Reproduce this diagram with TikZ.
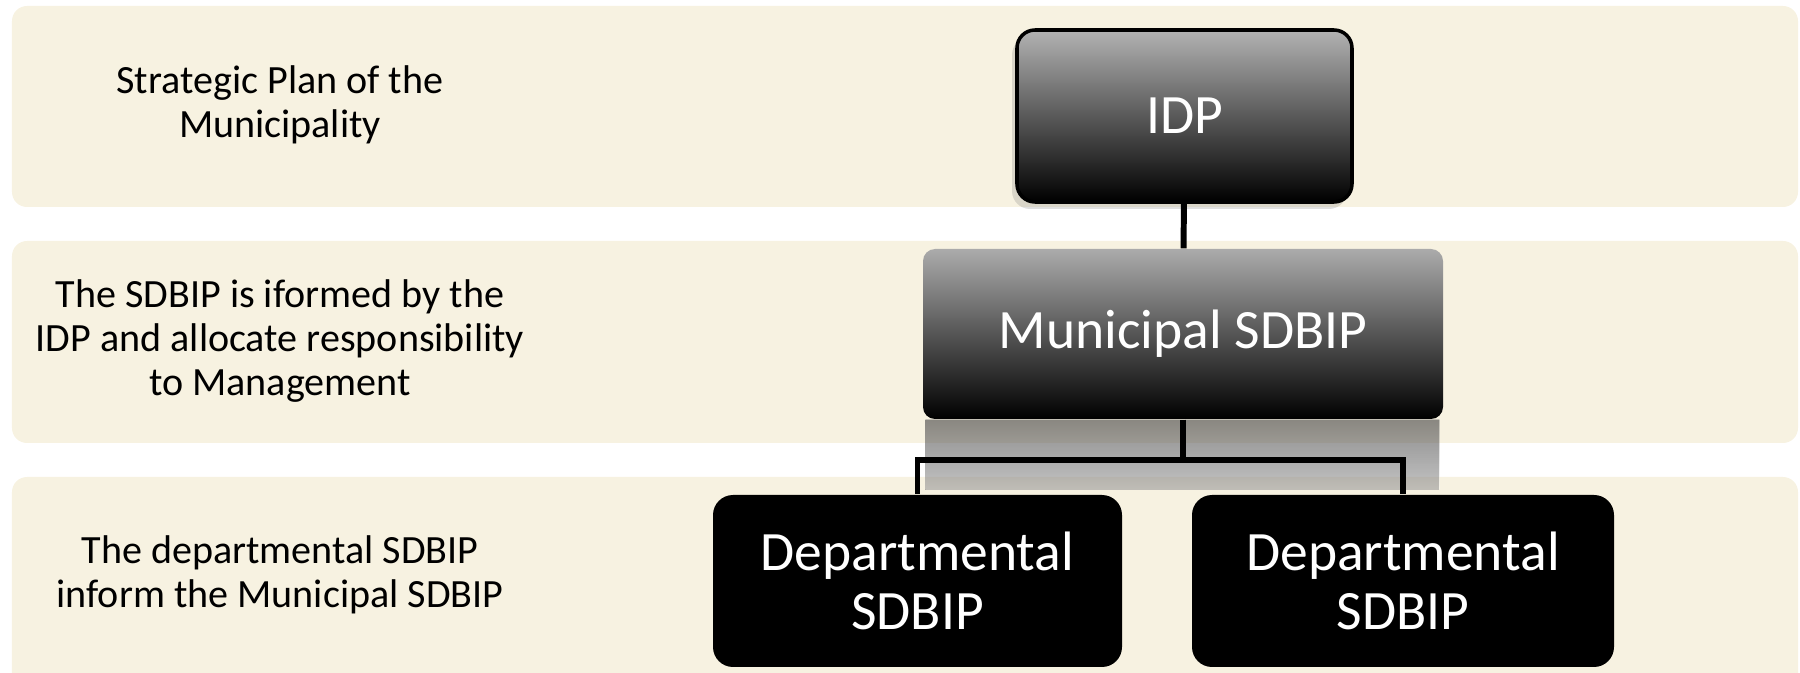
\documentclass[tikz,border=0pt]{standalone}
\usepackage{fontspec}
\setmainfont{Carlito}
\usetikzlibrary{shadows}
\definecolor{bandcream}{HTML}{F7F2E1}
\tikzset{
    band/.style={fill=bandcream, rounded corners=.15cm},
    note/.style={align=center, font=\fontsize{11.4}{12.6}\selectfont},
    boxtext/.style={text=white, align=center, inner sep=0pt,
        font=\fontsize{15.8}{16.8}\selectfont},
    idpbox/.style={boxtext, draw=black, line width=1pt, rounded corners=.18cm,
        top color=black!30, bottom color=black,
        minimum width=3.35cm, minimum height=1.72cm,
        drop shadow={shadow xshift=-.05cm, shadow yshift=-.07cm, opacity=.25}},
    munbox/.style={boxtext, rounded corners=.12cm,
        top color=black!33, bottom color=black,
        minimum width=5.2cm, minimum height=1.7cm},
    depbox/.style={boxtext, fill=black, rounded corners=.2cm,
        minimum height=1.72cm},
    link/.style={line width=1.7pt, black}
}
\begin{document}
\begin{tikzpicture}
    \useasboundingbox (0,0) rectangle (18,-6.73);
    % Bänder
    \fill[band] (.12,-.06) rectangle (17.98,-2.07);
    \fill[band] (.12,-2.41) rectangle (17.98,-4.43);
    \fill[band] (.12,-4.77) rectangle (17.98,-6.95);
    % Beschriftungen links
    \node[note] (n1) at (2.8,-1.05) {Strategic Plan of the\\Municipality};
    \node[note] (n2) at (2.8,-3.41) {The SDBIP is iformed by the\\IDP and allocate responsibility\\to Management};
    \node[note] (n3) at (2.8,-5.75) {The departmental SDBIP\\inform the Municipal SDBIP};
    % Kästen
    \node[idpbox] (IDP) at (11.845,-1.16) {IDP};
    \node[munbox] (MUN) at (11.83,-3.34) {Municipal SDBIP};
    % Schatten unter Municipal SDBIP
    \fill[top color=black!55, bottom color=white, opacity=.38]
        (MUN.south west) ++(.03,0) rectangle ++(5.14,-.7);
    \node[depbox, minimum width=4.09cm] (DL) at (9.175,-5.81) {Departmental\\SDBIP};
    \node[depbox, minimum width=4.22cm] (DR) at (14.03,-5.81) {Departmental\\SDBIP};
    % Verbindungen
    \coordinate (bar) at (MUN.south |- 0,-4.6);
    \draw[link] (IDP) -- (MUN);
    \draw[link] (MUN) -- (bar);
    \draw[link] (bar) -| (DL.north);
    \draw[link] (bar) -| (DR.north);
\end{tikzpicture}
\end{document}
